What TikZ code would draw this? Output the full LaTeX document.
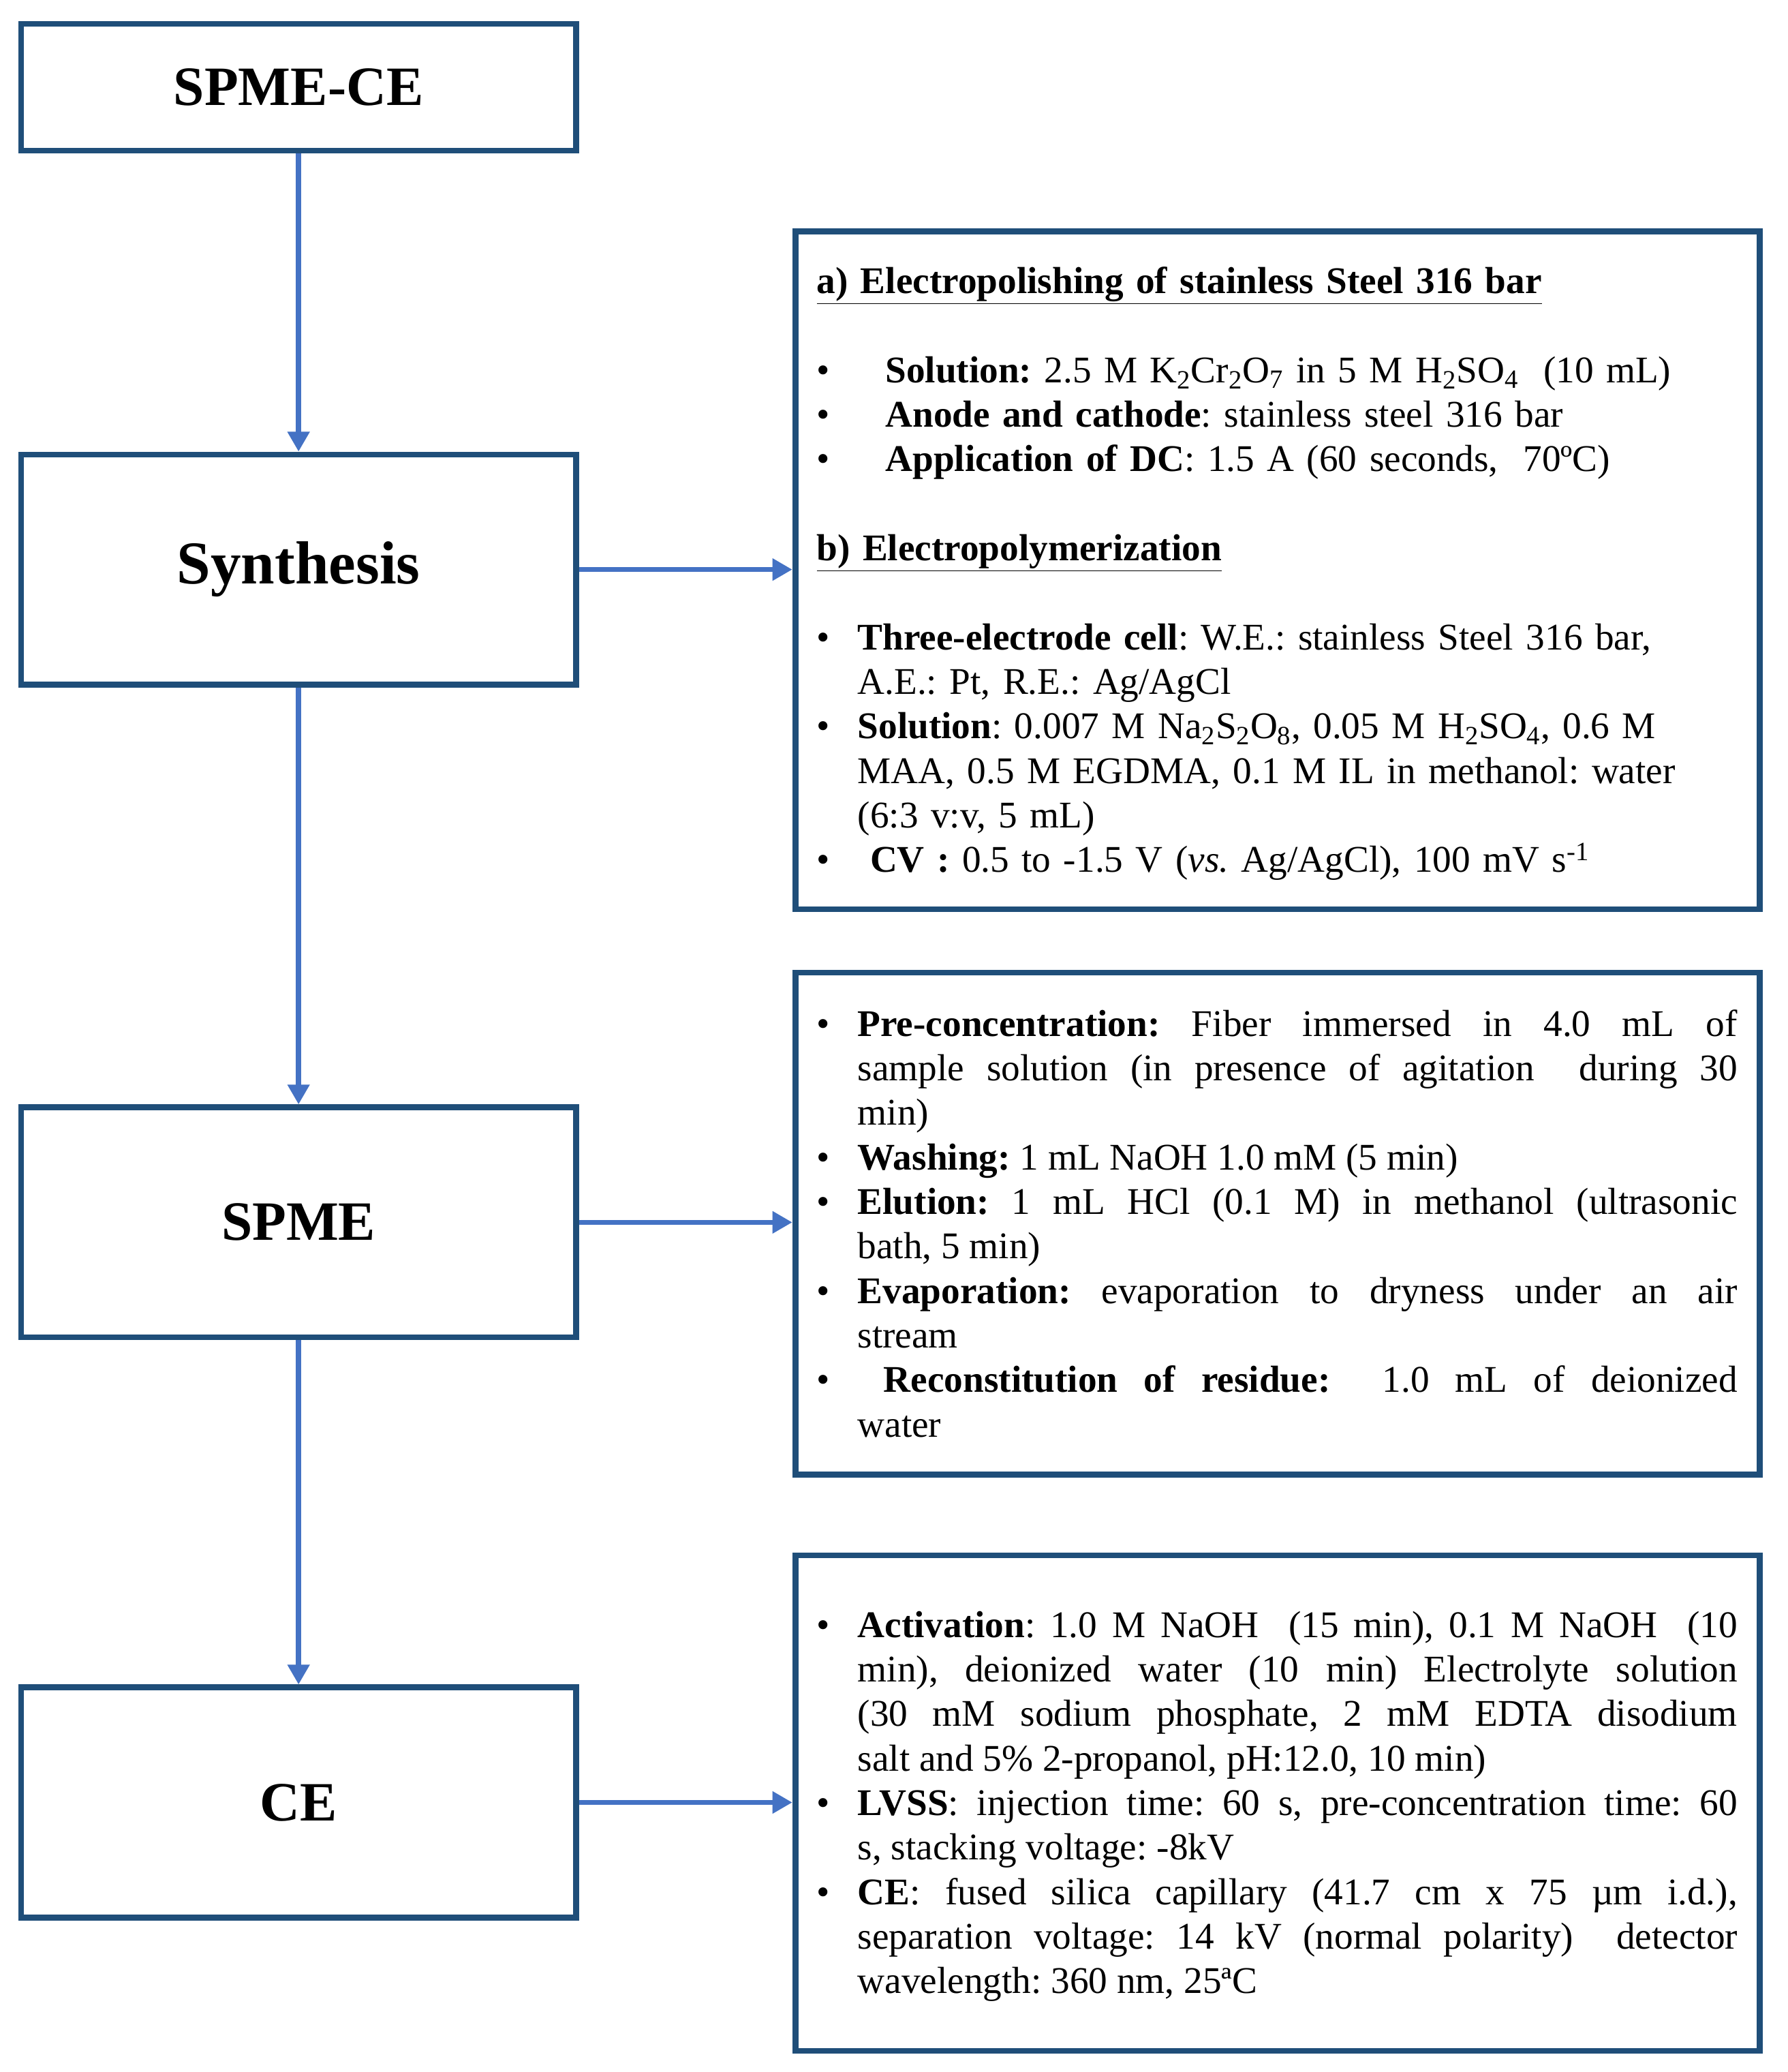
\documentclass[tikz,border=0pt]{standalone}
\usepackage{fontspec}
\setmainfont{Liberation Serif}
\usetikzlibrary{arrows.meta}
\definecolor{boxblue}{HTML}{1F4E79}
\definecolor{arrblue}{HTML}{4472C4}
\newcommand{\sbs}[1]{\textsubscript{#1}}
\newcommand{\bitem}[2]{\noindent\hangindent=#1\hangafter=1\makebox[#1][l]{\textbullet}#2\par}
\begin{document}
\begin{tikzpicture}[x=1pt,y=1pt,
  mainbox/.style={draw=boxblue, line width=4.5pt, fill=white, minimum width=420pt, minimum height=174pt, font=\fontsize{42}{50}\selectfont\bfseries},
  infobox/.style={draw=boxblue, line width=4.5pt, fill=white, minimum width=730pt},
  txt/.style={inner sep=0pt, text width=#1, font=\fontsize{28.5}{33.7}\selectfont\frenchspacing},
  conn/.style={draw=arrblue, line width=4pt, -{Triangle[length=15pt,width=16pt]}}]
\useasboundingbox (0,0) rectangle (1353,-1568);
\fill[white] (0,0) rectangle (1353,-1568);

\node[mainbox, minimum height=96pt] (top) at (226,-66) {SPME-CE};
\node[mainbox, font=\fontsize{46}{54}\selectfont\bfseries] (syn) at (226,-431) {Synthesis};
\node[mainbox] (spme) at (226,-925) {SPME};
\node[mainbox] (ce) at (226,-1364) {CE};

\node[infobox, minimum height=513pt] (b1) at (967,-431.5) {};
\node[infobox, minimum height=380pt] (b2) at (967,-926) {};
\node[infobox, minimum height=375pt] (b3) at (967,-1364.5) {};

\node[txt=697pt, align=left, anchor=base west] (t1) at (618,-222) {\parskip=0pt
\underline{\textbf{a) Electropolishing of stainless Steel 316 bar}}\par
\mbox{}\par
\bitem{52pt}{\textbf{Solution:} 2.5 M K\sbs{2}Cr\sbs{2}O\sbs{7} in 5 M H\sbs{2}SO\sbs{4} \ (10 mL)}
\bitem{52pt}{\textbf{Anode and cathode}: stainless steel 316 bar}
\bitem{52pt}{\textbf{Application of DC}: 1.5 A (60 seconds, \ 70ºC)}
\mbox{}\par
\underline{\textbf{b) Electropolymerization}}\par
\mbox{}\par
\bitem{31pt}{\textbf{Three-electrode cell}: W.E.: stainless Steel 316 bar,\newline A.E.: Pt, R.E.: Ag/AgCl}
\bitem{31pt}{\textbf{Solution}: 0.007 M Na\sbs{2}S\sbs{2}O\sbs{8}, 0.05 M H\sbs{2}SO\sbs{4}, 0.6 M\newline MAA, 0.5 M EGDMA, 0.1 M IL in methanol: water\newline (6:3 v:v, 5 mL)}
\bitem{31pt}{\ \textbf{CV :} 0.5 to -1.5 V (\textit{vs.} Ag/AgCl), 100 mV s\textsuperscript{-1}}
};

\node[txt=697pt, align=justify, anchor=base west] (t2) at (618,-784) {\parskip=0pt
\bitem{31pt}{\textbf{Pre-concentration:} Fiber immersed in 4.0 mL of\linebreak sample solution (in presence of agitation \ during 30\linebreak min)}
\bitem{31pt}{\textbf{Washing:} 1 mL NaOH 1.0 mM (5 min)}
\bitem{31pt}{\textbf{Elution:} 1 mL HCl (0.1 M) in methanol (ultrasonic\linebreak bath, 5 min)}
\bitem{31pt}{\textbf{Evaporation:} evaporation to dryness under an air\linebreak stream}
\bitem{31pt}{\ \textbf{Reconstitution of residue:} \ 1.0 mL of deionized\linebreak water}
};

\node[txt=697pt, align=justify, anchor=base west] (t3) at (618,-1239) {\parskip=0pt
\bitem{31pt}{\textbf{Activation}: 1.0 M NaOH \ (15 min), 0.1 M NaOH \ (10\linebreak min), deionized water (10 min) Electrolyte solution\linebreak (30 mM sodium phosphate, 2 mM EDTA disodium\linebreak salt and 5\% 2-propanol, pH:12.0, 10 min)}
\bitem{31pt}{\textbf{LVSS}: injection time: 60 s, pre-concentration time: 60\linebreak s, stacking voltage: -8kV}
\bitem{31pt}{\textbf{CE}: fused silica capillary (41.7 cm x 75 µm i.d.),\linebreak separation voltage: 14 kV (normal polarity) \ detector\linebreak wavelength: 360 nm, 25ªC}
};

\draw[conn] (top.south) -- (syn.north);
\draw[conn] (syn.south) -- (spme.north);
\draw[conn] (spme.south) -- (ce.north);
\draw[conn] (syn.east) -- (syn.east -| b1.west);
\draw[conn] (spme.east) -- (spme.east -| b2.west);
\draw[conn] (ce.east) -- (ce.east -| b3.west);
\end{tikzpicture}
\end{document}
